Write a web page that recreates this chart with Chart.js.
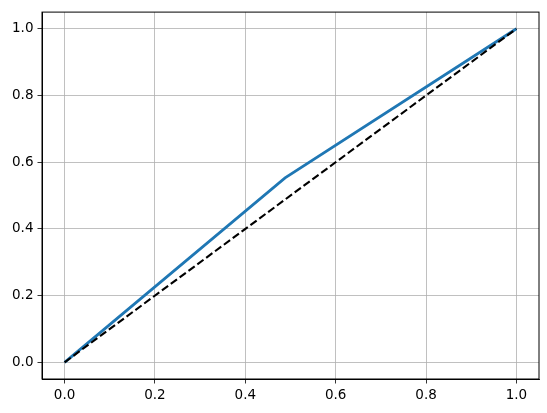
<!DOCTYPE html>
<html>
<head>
<meta charset="utf-8">
<script src="https://cdn.jsdelivr.net/npm/chart.js@4/dist/chart.umd.min.js"></script>
<style>
  html, body { margin: 0; padding: 0; background: #fff; }
  #wrap { width: 547px; height: 413px; }
</style>
</head>
<body>
<div id="wrap"><canvas id="chart" width="547" height="413"></canvas></div>
<script>
// ROC curve points (false positive rate, true positive rate)
const fpr = [0.0, 0.488, 1.0];
const tpr = [0.0, 0.553, 1.0];
// chance line
const diagX = [0, 1];
const diagY = [0, 1];
const xTicks = [0.0, 0.2, 0.4, 0.6, 0.8, 1.0];
const yTicks = [0.0, 0.2, 0.4, 0.6, 0.8, 1.0];

const frame = {
  id: "frame",
  afterDatasetsDraw(chart) {
    const a = chart.chartArea;
    const ctx = chart.ctx;
    ctx.save();
    ctx.strokeStyle = "#000";
    ctx.lineWidth = 1;
    ctx.strokeRect(a.left, a.top, a.right - a.left, a.bottom - a.top);
    ctx.restore();
  },
};

function axis(ticksArr, fitProp, fitVal) {
  return {
    type: "linear",
    min: -0.05,
    max: 1.05,
    afterBuildTicks: function (scale) {
      scale.ticks = ticksArr.map(function (v) { return { value: v }; });
    },
    afterFit: function (scale) {
      scale[fitProp] = fitVal;
    },
    grid: {
      color: "#b0b0b0",
      lineWidth: 0.8,
      tickColor: "#000",
      tickLength: 4.5,
      drawTicks: true,
    },
    border: { display: true, color: "#000", width: 1 },
    ticks: {
      color: "#000",
      padding: 4,
      font: { family: "DejaVu Sans", size: 13.5 },
      maxRotation: 0,
      callback: function (v) { return Number(v).toFixed(1); },
    },
  };
}

const ctx = document.getElementById("chart").getContext("2d");
new Chart(ctx, {
  type: "scatter",
  data: {
    datasets: [
      {
        label: "ROC",
        data: fpr.map(function (x, i) { return { x: x, y: tpr[i] }; }),
        showLine: true,
        borderColor: "#1f77b4",
        borderWidth: 2.8,
        pointRadius: 0,
        order: 1,
      },
      {
        label: "chance",
        data: diagX.map(function (x, i) { return { x: x, y: diagY[i] }; }),
        showLine: true,
        borderColor: "#000",
        borderWidth: 2.1,
        borderDash: [7.7, 3.3],
        pointRadius: 0,
        order: 0,
      },
    ],
  },
  options: {
    responsive: false,
    animation: false,
    devicePixelRatio: 1,
    layout: { padding: { left: 0, right: 8, top: 10, bottom: 0 } },
    plugins: {
      legend: { display: false },
      tooltip: { enabled: false },
    },
    scales: {
      x: axis(xTicks, "height", 34),
      y: axis(yTicks, "width", 42),
    },
  },
  plugins: [frame],
});
</script>
</body>
</html>
